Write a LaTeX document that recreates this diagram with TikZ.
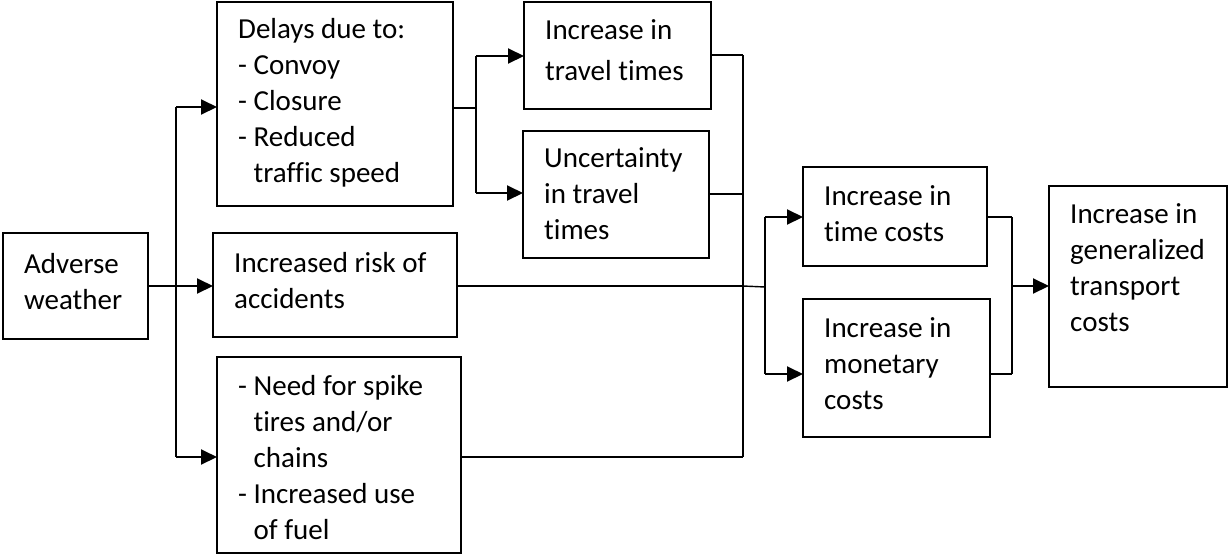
\documentclass[tikz,border=0pt]{standalone}
\usepackage{fontspec}
\setmainfont{Carlito}[Ligatures=NoCommon]
\usetikzlibrary{arrows.meta}
\newcommand\mybox[7]{%
  \node[box, minimum width={#4-#2}, minimum height={#5-#3}] (#1) at (#2,#3) {};
  \node[txt] at ([shift={(21,#6)}]#1.north west) {\begin{tabular}[t]{@{}l@{}}#7\end{tabular}};}
\begin{document}
\begin{tikzpicture}[x=1pt,y=-1pt,
  box/.style={draw, line width=1.3pt, inner sep=0pt, outer sep=0pt, anchor=north west},
  txt/.style={inner sep=0pt, anchor=base west, font=\fontsize{29}{36}\selectfont},
  conn/.style={line width=2pt},
  thk/.style={line width=2.7pt},
  thin/.style={line width=1.4pt},
  arr/.style={line width=2pt, -{Triangle[length=16pt,width=15pt]}}]
\useasboundingbox (0,0) rectangle (1228,555);
\mybox{adverse}{3}{233}{148}{339}{40}{Adverse\\weather}
\mybox{delays}{217}{2}{453}{206}{36}{Delays due to:\\- Convoy\\- Closure\\- Reduced\\\hphantom{- }traffic speed}
\mybox{risk}{213}{233}{457}{337}{39}{Increased risk of\\accidents}
\mybox{spike}{217}{357}{461}{553}{38}{- Need for spike\\\hphantom{- }tires and/or\\\hphantom{- }chains\\- Increased use\\\hphantom{- }of fuel}
\mybox{travel}{524}{2}{711}{109}{37}{Increase in\\[5pt]travel times}
\mybox{uncert}{523}{131}{709}{258}{36}{Uncertainty\\in travel\\times}
\mybox{time}{803}{167}{987}{266}{38}{Increase in\\time costs}
\mybox{money}{803}{299}{990}{437}{38}{Increase in\\monetary\\costs}
\mybox{gen}{1049}{186}{1227}{387}{37}{Increase in\\generalized\\transport\\costs}
% junctions
\coordinate (a0) at (176,286);
\coordinate (a1) at (176,107);
\coordinate (a3) at (176,457);
\coordinate (b0) at (476,108);
\coordinate (b1) at (476,56);
\coordinate (b2) at (476,193);
\coordinate (c1) at (743,55);
\coordinate (c2) at (743,194);
\coordinate (c3) at (743,286);
\coordinate (c4) at (743,457);
\coordinate (d0) at (765,287);
\coordinate (d1) at (765,217);
\coordinate (d2) at (765,374);
\coordinate (e1) at (1012,217);
\coordinate (e2) at (1012,374);
\coordinate (e0) at (1012,286);
% left fan
\draw[thk] (adverse.east |- a0) -- (a0);
\draw[conn] (a1) -- (a3);
\draw[arr] (a1) -- (a1 -| delays.west);
\draw[arr] (a0) -- (a0 -| risk.west);
\draw[arr] (a3) -- (a3 -| spike.west);
% delays fan
\draw[thk] (delays.east |- b0) -- (b0);
\draw[conn] (b1) -- (b2);
\draw[arr] (b1) -- (b1 -| travel.west);
\draw[arr] (b2) -- (b2 -| uncert.west);
% collector
\draw[thk] (travel.east |- c1) -- (c1);
\draw[thin] (uncert.east |- c2) -- (c2);
\draw[conn] (risk.east |- c3) -- (c3);
\draw[conn] (spike.east |- c4) -- (c4);
\draw[conn] (c1) -- (c4);
\draw[thin] (c3) -- (d0);
% cost fan
\draw[conn] (d1) -- (d2);
\draw[arr] (d1) -- (d1 -| time.west);
\draw[arr] (d2) -- (d2 -| money.west);
\draw[conn] (time.east |- e1) -- (e1);
\draw[thk] (money.east |- e2) -- (e2);
\draw[conn] (e1) -- (e2);
\draw[arr] (e0) -- (e0 -| gen.west);
\end{tikzpicture}
\end{document}
